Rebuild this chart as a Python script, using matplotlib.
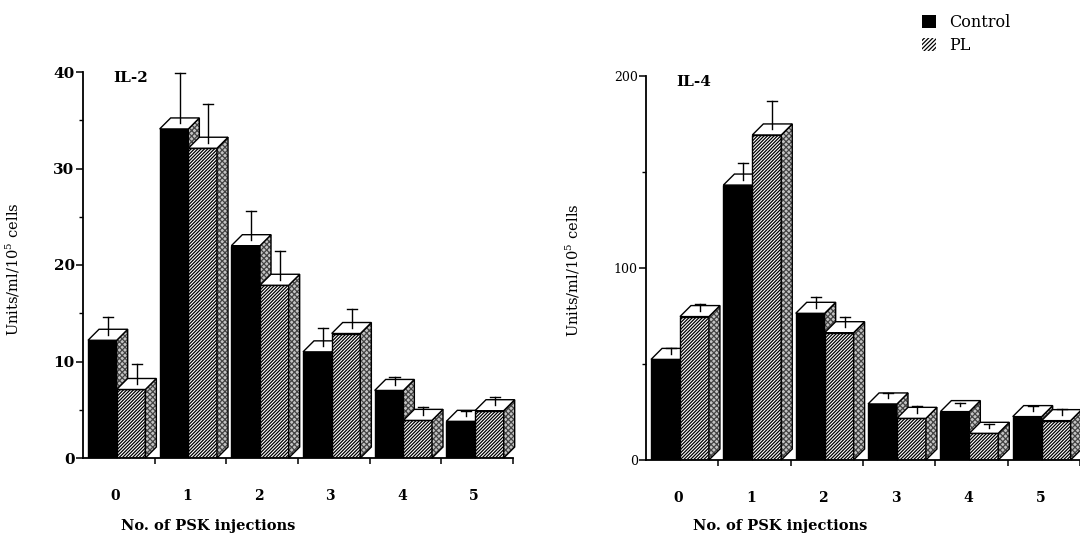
import numpy as np
import matplotlib.pyplot as plt
from matplotlib.patches import Polygon, Patch
from matplotlib.ticker import MultipleLocator

plt.rcParams['font.family'] = ['DejaVu Serif']
plt.rcParams['mathtext.fontset'] = 'dejavuserif'
plt.rcParams['hatch.linewidth'] = 0.9

# 数据
groups = ['0', '1', '2', '3', '4', '5']

il2_control = [12.2, 34.1, 22.0, 11.0, 7.0, 3.8]
il2_pl = [7.1, 32.1, 17.9, 12.9, 3.9, 4.9]
il2_control_err = [2.4, 5.8, 3.6, 2.5, 1.4, 1.1]
il2_pl_err = [2.6, 4.6, 3.6, 2.5, 1.4, 1.4]

il4_control = [52.4, 143.2, 76.4, 29.2, 25.2, 22.6]
il4_pl = [74.7, 169.3, 66.3, 21.7, 13.9, 20.5]
il4_control_err = [5.8, 11.3, 8.7, 5.9, 4.3, 5.5]
il4_pl_err = [6.6, 17.7, 8.0, 6.4, 4.9, 5.9]

DEPTH = 11  # 立体深度，像素
BAR_W = 0.4


def draw_panel(ax, control, pl, control_err, pl_err, ymax, major, title, ylab_size, ytick_bold):
    x = np.arange(len(groups))
    ax.set_xlim(-0.5, len(groups) - 0.5)
    ax.set_ylim(0, ymax)
    bbox = ax.get_window_extent()
    dx = DEPTH * len(groups) / bbox.width
    dy = DEPTH * ymax / bbox.height

    series = [
        (x - 0.43, control, control_err, 'black', None, 2),
        (x - 0.03, pl, pl_err, 'white', '/' * 10, 3),
    ]
    for xs, vals, errs, face, hatch, z in series:
        bars = ax.bar(xs, vals, width=BAR_W, align='edge', facecolor=face, edgecolor='black',
                      hatch=hatch, linewidth=1.0, zorder=z)
        for rect, err in zip(bars, errs):
            x0 = rect.get_x()
            x1 = x0 + rect.get_width()
            v = rect.get_height()
            top = Polygon([(x0, v), (x1, v), (x1 + dx, v + dy), (x0 + dx, v + dy)], closed=True,
                          facecolor='white', edgecolor='black', linewidth=1.0, zorder=z, clip_on=False)
            side_pts = [(x1, 0), (x1 + dx, dy), (x1 + dx, v + dy), (x1, v)]
            # 侧面：灰色细网点 + 黑色轮廓
            side_fill = Polygon(side_pts, closed=True, facecolor='#c4c4c4', edgecolor='#444444',
                                hatch='x' * 6, linewidth=0, zorder=z, clip_on=False)
            side_edge = Polygon(side_pts, closed=True, fill=False, edgecolor='black',
                                linewidth=1.0, zorder=z, clip_on=False)
            ax.add_patch(side_fill)
            ax.add_patch(side_edge)
            ax.add_patch(top)
            # 误差线从顶面中心向上
            cx = (x0 + x1) / 2 + dx / 2
            ax.plot([cx, cx], [v + dy / 2, v + err], color='black', lw=1.0, zorder=6, clip_on=False)
            ax.plot([cx - 0.07, cx + 0.07], [v + err, v + err], color='black', lw=1.0, zorder=6,
                    clip_on=False)

    for s in ['top', 'right']:
        ax.spines[s].set_visible(False)
    ax.spines['left'].set_linewidth(1.3)
    ax.spines['bottom'].set_linewidth(1.3)
    ax.spines['bottom'].set_zorder(7)

    ax.set_yticks(np.arange(0, ymax + 1, major))
    ax.yaxis.set_minor_locator(MultipleLocator(major / 2))
    ax.tick_params(axis='y', which='major', direction='out', length=5, width=1.1,
                   labelsize=ylab_size, pad=1)
    ax.tick_params(axis='y', which='minor', direction='out', length=3, width=1.0)
    for lab in ax.get_yticklabels():
        lab.set_fontweight('bold' if ytick_bold else 'normal')

    ax.set_xticks(x + 0.5)
    ax.tick_params(axis='x', which='major', direction='out', length=4, width=1.1, labelbottom=False)
    ax.set_xticks(x - 0.05, groups, minor=True)
    ax.tick_params(axis='x', which='minor', length=0, pad=22, labelsize=10)
    for lab in ax.get_xticklabels(minor=True):
        lab.set_fontweight('bold')

    ax.set_ylabel('Units/ml/10$^5$ cells', fontsize=10.5)
    ax.set_xlabel('No. of PSK injections', fontsize=10.5, fontweight='bold')
    ax.text(0.07, 0.985, title, transform=ax.transAxes, fontsize=11, fontweight='bold',
            ha='left', va='center')


fig = plt.figure(figsize=(10.8, 5.54), dpi=100)
ax1 = fig.add_axes([83 / 1080, 96 / 554, 430 / 1080, 386 / 554])
ax2 = fig.add_axes([646 / 1080, 94 / 554, 434 / 1080, 384 / 554])

draw_panel(ax1, il2_control, il2_pl, il2_control_err, il2_pl_err, 40, 10, 'IL-2', 11, True)
draw_panel(ax2, il4_control, il4_pl, il4_control_err, il4_pl_err, 200, 100, 'IL-4', 9, False)

ax1.yaxis.set_label_coords(-0.142, 0.49)
ax1.xaxis.set_label_coords(0.29, -0.158)
ax2.yaxis.set_label_coords(-0.147, 0.495)
ax2.xaxis.set_label_coords(0.309, -0.154)

handles = [Patch(facecolor='black', edgecolor='black', linewidth=0),
           Patch(facecolor='white', edgecolor='black', hatch='/' * 8, linewidth=0)]
fig.legend(handles, ['Control', 'PL'], loc='upper left', bbox_to_anchor=(0.84, 1.0),
           frameon=False, fontsize=11.5, handlelength=0.9, handleheight=0.9, handletextpad=0.8,
           labelspacing=0.35)

fig.savefig('out.png', dpi=100)
